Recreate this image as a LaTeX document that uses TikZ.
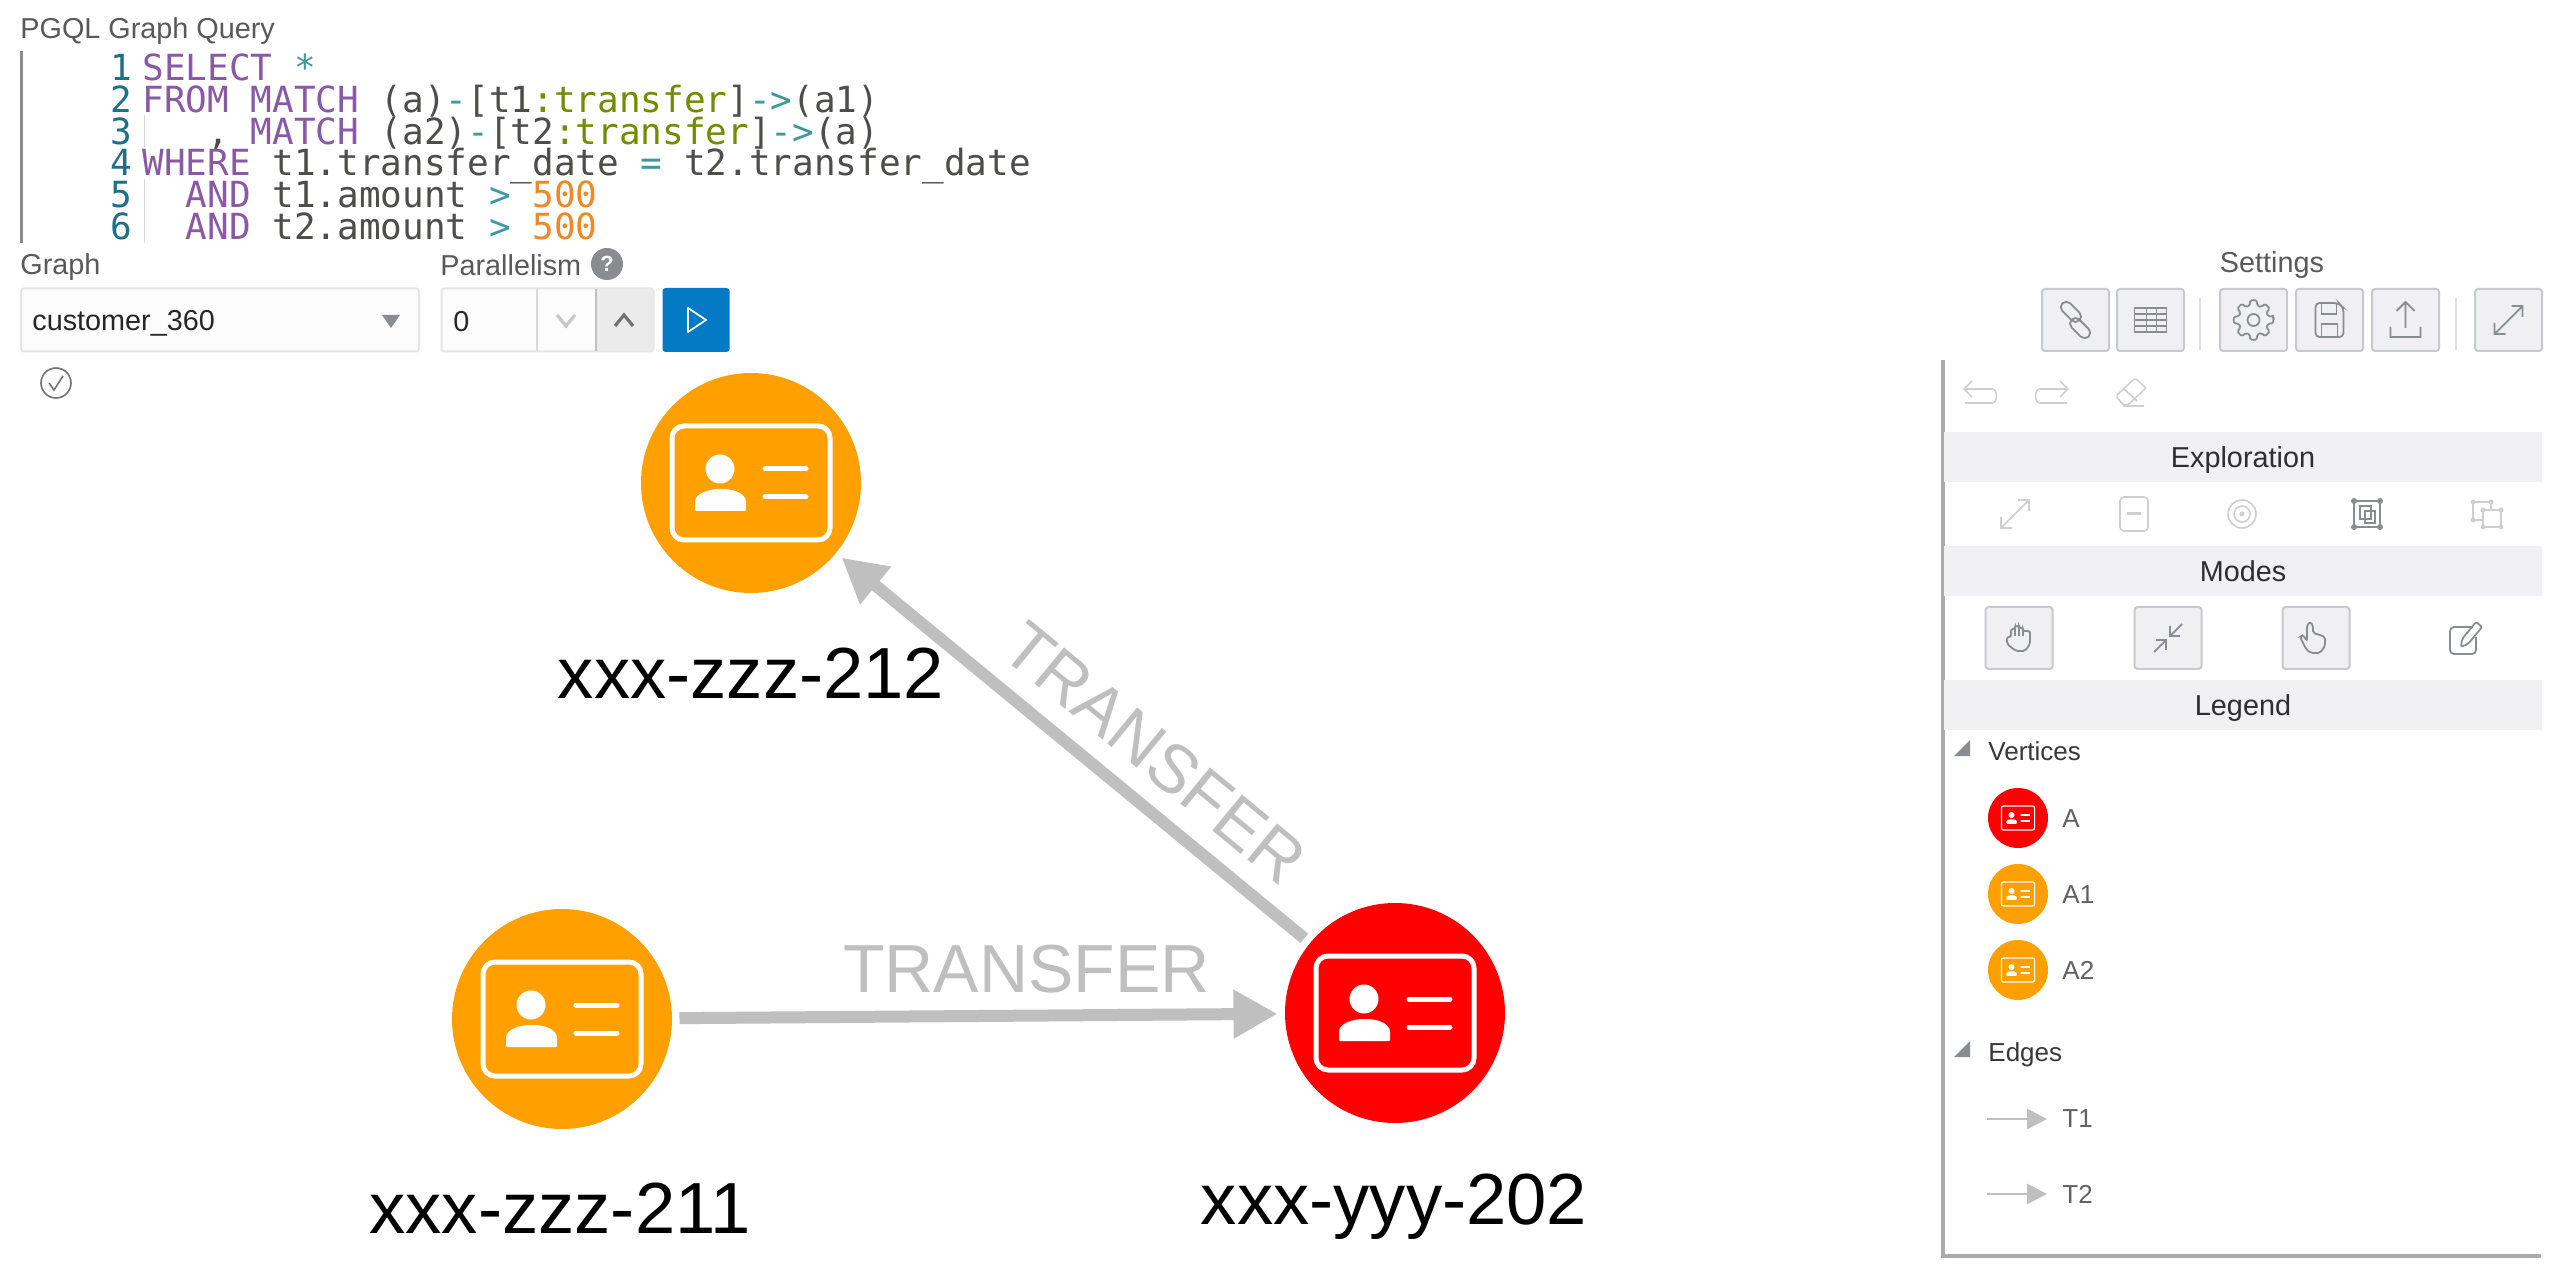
\documentclass[tikz,border=0pt]{standalone}
\usepackage{fontspec}
\setmainfont{Liberation Sans}
\setmonofont{DejaVu Sans Mono}
\usetikzlibrary{arrows.meta, positioning, calc}
\definecolor{vertexorange}{RGB}{255,160,0}
\definecolor{vertexred}{RGB}{255,0,0}
\definecolor{edgegray}{RGB}{191,191,191}
\definecolor{kwpurple}{RGB}{137,89,168}
\definecolor{opteal}{RGB}{62,153,159}
\definecolor{labelolive}{RGB}{113,140,0}
\definecolor{numorange}{RGB}{240,136,36}
\definecolor{linenum}{RGB}{31,111,139}
\definecolor{codetext}{RGB}{77,77,76}
\definecolor{bandfill}{RGB}{241,241,243}
\definecolor{btnfill}{RGB}{240,240,242}
\definecolor{btnline}{RGB}{200,201,204}
\definecolor{iconmid}{RGB}{137,140,145}
\definecolor{iconpale}{RGB}{205,207,210}
\definecolor{panelline}{RGB}{170,172,176}
\definecolor{playblue}{RGB}{4,122,197}
\newcommand{\kw}[1]{\textcolor{kwpurple}{#1}}
\newcommand{\op}[1]{\textcolor{opteal}{#1}}
\newcommand{\lbl}[1]{\textcolor{labelolive}{#1}}
\newcommand{\nr}[1]{\textcolor{numorange}{#1}}

\tikzset{
    idcard/.pic={
        \draw[white, rounded corners=#1] (-79,-57) rectangle (79,57);
        \fill[white] (-31,-14) circle (14.5);
        \fill[white, rounded corners=0.5pt] (-56,28) -- (-56,20) .. controls (-56,11) and (-44,6) .. (-30,6) .. controls (-16,6) and (-5,11) .. (-5,20) -- (-5,28) -- cycle;
        \draw[white, line cap=round] (14,-14) -- (55,-14) (14,14) -- (55,14);
    },
    iconlink/.pic={
        \draw[rotate=-45, rounded corners=2.7pt] (-21,-8) rectangle (3,3) (-3,-3) rectangle (21,8);
    },
    icongrid/.pic={
        \draw (-16,-12) rectangle (16,12) (-16,-6) -- (16,-6) (-16,0) -- (16,0) (-16,6) -- (16,6) (-4,-12) -- (-4,12) (6,-12) -- (6,12);
    },
    icongear/.pic={
        \draw[rounded corners=0.8pt] (-11:20) \foreach \a in {0,45,...,315}{ -- (\a-10:20) -- (\a+10:20) -- (\a+14:15) -- (\a+31:15)} -- cycle;
        \draw (0,0) circle (6);
    },
    iconsave/.pic={
        \draw[rounded corners=2pt] (-14,-17) -- (9,-17) -- (14,-12) -- (14,17) -- (-14,17) -- cycle;
        \draw (-8,-17) -- (-8,-6) -- (7,-6) -- (7,-17) (-8,17) -- (-8,4) -- (8,4) -- (8,17);
    },
    iconupload/.pic={
        \draw (-15,7) -- (-15,17) -- (15,17) -- (15,7) (0,8) -- (0,-18) (-9,-9) -- (0,-18) -- (9,-9);
    },
    iconexpand/.pic={
        \draw (-14,14) -- (14,-14) (3,-14) -- (14,-14) -- (14,-3) (-14,3) -- (-14,14) -- (-3,14);
    },
    iconcollapse/.pic={
        \draw (-14,14) -- (-2,2) (-12,2) -- (-2,2) -- (-2,12) (14,-14) -- (2,-2) (2,-12) -- (2,-2) -- (12,-2);
    },
    iconundo/.pic={
        \draw (14,-3) -- (-14,-3) (-6,-11) -- (-14,-3) -- (-6,5) (14,-3) .. controls (20,-3) and (20,11) .. (14,11) -- (-13,11);
    },
    iconredo/.pic={
        \draw (-14,-3) -- (14,-3) (6,-11) -- (14,-3) -- (6,5) (-14,-3) .. controls (-20,-3) and (-20,11) .. (-14,11) -- (13,11);
    },
    iconeraser/.pic={
        \draw[rounded corners=1pt] (-15,4) -- (4,-14) -- (15,-4) -- (-3,13) -- (-8,13) -- cycle;
        \draw (-7,-3) -- (6,9) (-8,14) -- (13,14);
    },
    iconminus/.pic={
        \draw[rounded corners=2pt] (-14,-17) rectangle (14,17);
        \draw[line width=1.5pt] (-7,0) -- (7,0);
    },
    icontarget/.pic={
        \draw (0,0) circle (14) (0,0) circle (8);
        \fill (0,0) circle (2.5);
    },
    iconfocus/.pic={
        \draw (-13,-13) rectangle (13,13) (-7,-8) rectangle (4,5) (-2,-3) rectangle (8,9);
        \fill (-13,-13) circle (3) (13,-13) circle (3) (-13,13) circle (3) (13,13) circle (3);
    },
    iconselect/.pic={
        \draw (-14,6) -- (-14,-12) -- (4,-12) -- (4,-4) (-14,6) -- (-4,6) (-4,-4) rectangle (14,13);
        \fill (-14,-12) circle (2.5) (4,-12) circle (2.5) (-14,6) circle (2.5) (-4,-4) circle (2.5) (14,-4) circle (2.5) (-4,13) circle (2.5) (14,13) circle (2.5);
    },
    iconpalm/.pic={
        \draw[rounded corners=1pt] (-3,13) -- (-12,6) -- (-12,-1) -- (-8,-1) -- (-8,-9) -- (-4,-9) -- (-4,-12) -- (0,-12) -- (0,-10) -- (4,-10) -- (4,-7) -- (11,-7) -- (11,6) -- (6,13) -- cycle;
        \draw (-4,-9) -- (-4,-2) (0,-10) -- (0,-2) (4,-7) -- (4,-2);
    },
    iconpoint/.pic={
        \draw[rounded corners=1pt] (-9,-13) -- (-9,3) -- (-13,-3) -- (-16,-1) -- (-10,11) -- (-5,15) -- (4,15) -- (9,8) -- (9,-1) -- (4,-3) -- (-3,-5) -- (-3,-13) -- (-6,-16) -- cycle;
    },
    iconpencil/.pic={
        \draw[rounded corners=2pt] (8,-11) -- (-15,-11) -- (-15,16) -- (11,16) -- (11,-1);
        \draw[rounded corners=1pt] (-4,9) -- (-3,1) -- (11,-16) -- (17,-11) -- (3,6) -- cycle;
    }
}

\begin{document}
\begin{tikzpicture}[
    x=0.5pt, y=-0.5pt,
    uitext/.style={font=\fontsize{14.4}{17}\selectfont, inner sep=0pt, text=black!65},
    bandtext/.style={font=\fontsize{14.4}{17}\selectfont, inner sep=0pt, text=black!82},
    legendtext/.style={font=\fontsize{13}{16}\selectfont, inner sep=0pt, anchor=west, text=black!62},
    treetext/.style={font=\fontsize{13}{16}\selectfont, inner sep=0pt, anchor=west, text=black!78},
    codeline/.style={font=\ttfamily\fontsize{18}{20}\selectfont, inner sep=0pt, anchor=base west, text=codetext},
    codenum/.style={font=\ttfamily\fontsize{18}{20}\selectfont, inner sep=0pt, anchor=base east, text=linenum},
    vertex/.style={circle, minimum size=110pt, inner sep=0pt, outer sep=3.75pt},
    legendvertex/.style={circle, minimum size=30pt, inner sep=0pt},
    vertexname/.style={font=\fontsize{36.2}{40}\selectfont, inner sep=0pt, text=black},
    edgeline/.style={-{Triangle[length=22pt, width=23pt]}, line width=6pt, edgegray},
    edgename/.style={font=\fontsize{34}{38}\selectfont, inner sep=0pt, text=edgegray},
    legendedge/.style={-{Triangle[length=10pt, width=10pt]}, line width=1.4pt, edgegray},
    toolbtn/.style={draw=btnline, fill=btnfill, line width=1pt, rounded corners=1.5pt, minimum width=33.5pt, minimum height=31pt, inner sep=0pt},
    band/.style={fill=bandfill, minimum width=299pt, minimum height=25pt, inner sep=0pt},
    iconbtn/.style={draw=iconmid, fill=iconmid, line width=1pt},
    iconsoft/.style={draw=iconpale, fill=iconpale, line width=0.8pt}
]
\useasboundingbox (0,0) rectangle (2560,1272);
\fill[white] (0,0) rectangle (2560,1272);

% query editor
\node[uitext, anchor=west] (querytitle) at (20,31) {PGQL Graph Query};
\draw[line width=1.5pt, black!45] (21,51) -- (21,243);
\draw[line width=0.4pt, black!15] (144,115) -- (144,147) (144,179) -- (144,243);

\node[codenum] (num1) at (133,81) {1};
\node[codenum] (num2) at (133,113) {2};
\node[codenum] (num3) at (133,145) {3};
\node[codenum] (num4) at (133,176) {4};
\node[codenum] (num5) at (133,208) {5};
\node[codenum] (num6) at (133,240) {6};
\node[codeline] (line1) at (142,81) {\kw{SELECT} \op{*}};
\node[codeline] (line2) at (142,113) {\kw{FROM} \kw{MATCH} (a)\op{-}[t1\lbl{:transfer}]\op{->}(a1)};
\node[codeline] (line3) at (142,145) {~~~, \kw{MATCH} (a2)\op{-}[t2\lbl{:transfer}]\op{->}(a)};
\node[codeline] (line4) at (142,176) {\kw{WHERE} t1.transfer\_date \op{=} t2.transfer\_date};
\node[codeline] (line5) at (142,208) {~~\kw{AND} t1.amount \op{>} \nr{500}};
\node[codeline] (line6) at (142,240) {~~\kw{AND} t2.amount \op{>} \nr{500}};

% graph selector
\node[uitext, anchor=west] (graphlabel) at (20,267) {Graph};
\node[uitext, anchor=west] (parlabel) at (440,265) {Parallelism};
\node[circle, fill=iconmid, minimum size=16pt, inner sep=0pt, text=white, font=\fontsize{11}{12}\selectfont\bfseries] (parhelp) at (607,264) {?};
\node[draw=black!10, fill=black!1, line width=1pt, rounded corners=1.5pt, minimum width=199pt, minimum height=31.5pt, inner sep=0pt] (graphbox) at (220,320) {};
\node[uitext, anchor=west, text=black!85] (graphname) at (32,323) {customer\_360};
\fill[iconmid] (382,315) -- (400,315) -- (391,328) -- cycle;
\node[draw=black!10, fill=black!1, line width=1pt, rounded corners=1.5pt, minimum width=106pt, minimum height=31.5pt, inner sep=0pt] (parbox) at (547.5,320) {};
\fill[black!8, rounded corners=1.5pt] (596,288.5) rectangle (653.5,351.5);
\draw[line width=0.6pt, black!15] (537,289) -- (537,351);
\draw[line width=0.6pt, black!25] (596,289) -- (596,351);
\node[uitext, anchor=west, text=black!85] (parvalue) at (453,322) {0};
\draw[line width=1.6pt, black!22] (557,315) -- (566,326) -- (575,315);
\draw[line width=1.6pt, black!55] (615,326) -- (624,315) -- (633,326);
\node[fill=playblue, rounded corners=1.5pt, minimum width=33.5pt, minimum height=32pt, inner sep=0pt] (runbtn) at (696,320) {};
\draw[white, line width=0.9pt, line join=round] (688,308) -- (706,320) -- (688,332) -- cycle;
\draw[line width=0.8pt, black!55] (56,383) circle (15);
\draw[line width=0.8pt, black!55] (49,383) -- (54,390) -- (63,376);

% settings toolbar
\node[uitext] (settingslabel) at (2272,265) {Settings};
\node[toolbtn] (btnlink) at (2075.5,320) {};
\node[toolbtn] (btngrid) at (2150.5,320) {};
\node[toolbtn] (btngear) at (2253.5,320) {};
\node[toolbtn] (btnsave) at (2329.5,320) {};
\node[toolbtn] (btnupload) at (2405.5,320) {};
\node[toolbtn] (btnexpand) at (2508.5,320) {};
\draw[line width=0.6pt, black!12] (2200,298) -- (2200,350) (2456,298) -- (2456,350);
\pic[draw=iconmid, line width=0.9pt] at (btnlink) {iconlink};
\pic[draw=iconmid, line width=0.9pt] at (btngrid) {icongrid};
\pic[draw=iconmid, line width=0.9pt] at (btngear) {icongear};
\pic[draw=iconmid, line width=0.9pt] at (btnsave) {iconsave};
\pic[draw=iconmid, line width=0.9pt] at (btnupload) {iconupload};
\pic[draw=iconmid, line width=0.9pt] at (btnexpand) {iconexpand};

% side panel
\draw[line width=2pt, panelline] (1943,360) -- (1943,1256) -- (2541,1256);
\pic[iconsoft] at (1978,392) {iconundo};
\pic[iconsoft] at (2054,392) {iconredo};
\pic[iconsoft] at (2131,392) {iconeraser};
\node[band] (bandexplore) at (2243,457) {};
\node[bandtext] (explorelabel) at (2243,460) {Exploration};
\pic[iconsoft] at (2015,514) {iconexpand};
\pic[iconsoft] at (2134,514) {iconminus};
\pic[iconsoft] at (2242,514) {icontarget};
\pic[iconbtn] at (2367,514) {iconfocus};
\pic[iconsoft] at (2487,514) {iconselect};
\node[band] (bandmodes) at (2243,571) {};
\node[bandtext] (modeslabel) at (bandmodes) {Modes};
\node[toolbtn] (btnpalm) at (2019,638) {};
\node[toolbtn] (btncollapse) at (2168,638) {};
\node[toolbtn] (btnpoint) at (2316,638) {};
\pic[draw=iconmid, line width=0.9pt] at (btnpalm) {iconpalm};
\pic[draw=iconmid, line width=0.9pt] at (btncollapse) {iconcollapse};
\pic[draw=iconmid, line width=0.9pt] at (btnpoint) {iconpoint};
\pic[draw=iconmid, line width=0.9pt] at (2465,638) {iconpencil};
\node[band] (bandlegend) at (2243,705) {};
\node[bandtext] (legendlabel) at (2243,708) {Legend};

% legend
\fill[iconmid] (1954,756) -- (1970,756) -- (1970,740) -- cycle;
\node[treetext] (treevertices) at (1988,751) {Vertices};
\node[legendvertex, fill=vertexred] (legenda) at (2018,818) {};
\node[legendvertex, fill=vertexorange] (legenda1) at (2018,894) {};
\node[legendvertex, fill=vertexorange] (legenda2) at (2018,970) {};
\pic[scale=0.21, line width=0.6pt] at (legenda) {idcard=1pt};
\pic[scale=0.21, line width=0.6pt] at (legenda1) {idcard=1pt};
\pic[scale=0.21, line width=0.6pt] at (legenda2) {idcard=1pt};
\node[legendtext] (labela) at (2062,819) {A};
\node[legendtext] (labela1) at (2062,895) {A1};
\node[legendtext] (labela2) at (2062,970) {A2};
\fill[iconmid] (1954,1057) -- (1970,1057) -- (1970,1041) -- cycle;
\node[treetext] (treeedges) at (1988,1055) {Edges};
\coordinate (t1from) at (1987,1119);
\coordinate (t1to) at (2047,1119);
\coordinate (t2from) at (1987,1194);
\coordinate (t2to) at (2047,1194);
\draw[legendedge] (t1from) -- (t1to);
\draw[legendedge] (t2from) -- (t2to);
\node[legendtext] (labelt1) at (2062,1119) {T1};
\node[legendtext] (labelt2) at (2062,1194) {T2};

% graph
\node[vertex, fill=vertexorange] (v212) at (751,483) {};
\node[vertex, fill=vertexorange] (v211) at (562,1019) {};
\node[vertex, fill=vertexred] (v202) at (1395,1013) {};
\pic[line width=2.5pt] at (v212) {idcard=6pt};
\pic[line width=2.5pt] at (v211) {idcard=6pt};
\pic[line width=2.5pt] at (v202) {idcard=6pt};
\node[vertexname] (name212) at (751,673) {xxx-zzz-212};
\node[vertexname] (name211) at (560,1208) {xxx-zzz-211};
\node[vertexname] (name202) at (1394,1207) {xxx-yyy-202};

\draw[edgeline] (v211) -- node[edgename, pos=0.58, above=8pt, inner sep=0pt] (edge1) {TRANSFER} (v202);
\draw[edgeline] (v202) -- node[edgename, pos=0.39, sloped, above=9pt, inner sep=0pt] (edge2) {TRANSFER} (v212);

\end{tikzpicture}
\end{document}
